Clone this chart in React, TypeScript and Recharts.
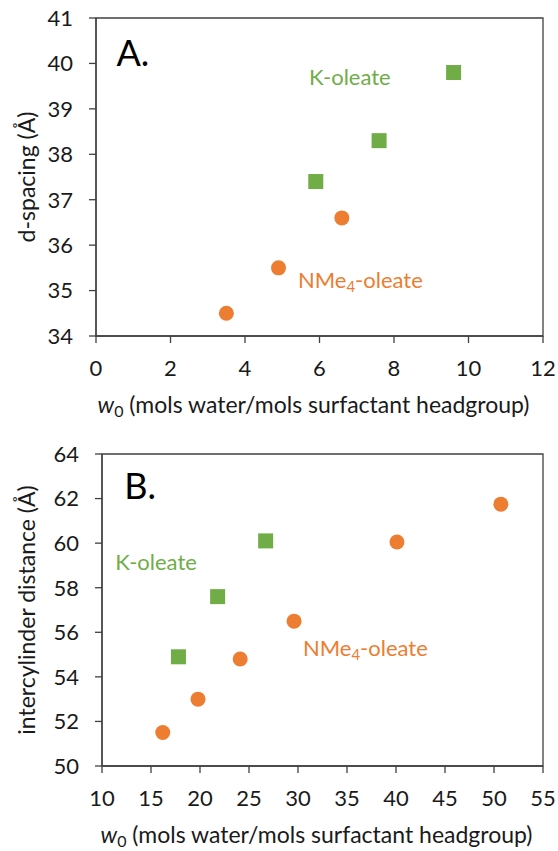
import React from "react";
import {
  ScatterChart,
  Scatter,
  XAxis,
  YAxis,
  ReferenceArea,
  ReferenceDot,
} from "recharts";

// Panel A: lamellar d-spacing vs w0
const kOleateW0A = [5.9, 7.6, 9.6];
const kOleateSpacingA = [37.4, 38.3, 39.8];
const nme4OleateW0A = [3.5, 4.9, 6.6];
const nme4OleateSpacingA = [34.5, 35.5, 36.6];
const xTicksA = [0, 2, 4, 6, 8, 10, 12];
const yTicksA = [34, 35, 36, 37, 38, 39, 40, 41];

// Panel B: intercylinder distance vs w0
const kOleateW0B = [17.8, 21.8, 26.7];
const kOleateDistB = [54.9, 57.6, 60.1];
const nme4OleateW0B = [16.2, 19.8, 24.1, 29.6, 40.1, 50.7];
const nme4OleateDistB = [51.5, 53.0, 54.8, 56.5, 60.05, 61.75];
const xTicksB = [10, 15, 20, 25, 30, 35, 40, 45, 50, 55];
const yTicksB = [50, 52, 54, 56, 58, 60, 62, 64];

const GREEN = "#70AD47";
const ORANGE = "#ED7D31";
const AXIS = "#404040";
const TEXT = "#1a1a1a";
const FONT = "Lato, 'Open Sans', sans-serif";

const zip = (xs: number[], ys: number[]) => xs.map((x, i) => ({ x, y: ys[i] }));

const Square = (props: any) => {
  const { cx, cy } = props;
  return <rect x={cx - 7.5} y={cy - 7.5} width={15} height={15} fill={GREEN} />;
};

const Dot = (props: any) => {
  const { cx, cy } = props;
  return <circle cx={cx} cy={cy} r={7.5} fill={ORANGE} />;
};

const tickStyle = { fontSize: 22, fill: TEXT, fontFamily: FONT };

const XTitle = (props: any) => {
  const { viewBox } = props;
  const cx = viewBox.x + viewBox.width / 2 - 6;
  const y = viewBox.y + 77;
  return (
    <text x={cx} y={y} textAnchor="middle" fontSize={23} fill={TEXT} fontFamily={FONT}>
      <tspan fontStyle="italic">w</tspan>
      <tspan fontSize={16} dy={4}>0</tspan>
      <tspan dy={-4}> (mols water/mols surfactant headgroup)</tspan>
    </text>
  );
};

const yTitle = (text: string) => (props: any) => {
  const { viewBox } = props;
  const cy = viewBox.y + viewBox.height / 2;
  const x = 26;
  return (
    <text
      x={x}
      y={cy}
      transform={`rotate(-90 ${x} ${cy})`}
      textAnchor="middle"
      dominantBaseline="central"
      fontSize={23}
      fill={TEXT}
      fontFamily={FONT}
    >
      {text}
    </text>
  );
};

const note = (text: string, color: string, size = 22) => (props: any) => (
  <text x={props.cx} y={props.cy} fontSize={size} fill={color} fontFamily={FONT}>
    {text}
  </text>
);

const nme4Note = (props: any) => (
  <text x={props.cx} y={props.cy} fontSize={22} fill={ORANGE} fontFamily={FONT}>
    <tspan>NMe</tspan>
    <tspan fontSize={15} dy={4}>4</tspan>
    <tspan dy={-4}>-oleate</tspan>
  </text>
);

const axisProps = {
  axisLine: { stroke: AXIS, strokeWidth: 1.3 },
  tickLine: { stroke: AXIS, strokeWidth: 1.3 },
  tickSize: 7,
  tick: tickStyle,
};

const PanelA = () => (
  <ScatterChart width={558} height={430} margin={{ top: 18, right: 15, bottom: 0, left: 0 }}>
    <ReferenceArea x1={0} x2={12} y1={34} y2={41} fill="none" stroke={AXIS} strokeWidth={1.3} />
    <XAxis
      type="number"
      dataKey="x"
      domain={[0, 12]}
      ticks={xTicksA}
      height={94}
      tickMargin={17}
      label={<XTitle />}
      {...axisProps}
    />
    <YAxis
      type="number"
      dataKey="y"
      domain={[34, 41]}
      ticks={yTicksA}
      width={96}
      tickMargin={16}
      label={{ content: yTitle("d-spacing (Å)") }}
      {...axisProps}
    />
    <Scatter data={zip(kOleateW0A, kOleateSpacingA)} shape={Square} isAnimationActive={false} />
    <Scatter data={zip(nme4OleateW0A, nme4OleateSpacingA)} shape={Dot} isAnimationActive={false} />
    <ReferenceDot x={0.55} y={39.95} shape={note("A.", "#000", 36)} />
    <ReferenceDot x={5.72} y={39.52} shape={note("K-oleate", GREEN)} />
    <ReferenceDot x={5.42} y={35.05} shape={nme4Note} />
  </ScatterChart>
);

const PanelB = () => (
  <ScatterChart width={558} height={421} margin={{ top: 24, right: 15, bottom: 0, left: 0 }}>
    <ReferenceArea x1={10} x2={55} y1={50} y2={64} fill="none" stroke={AXIS} strokeWidth={1.3} />
    <XAxis
      type="number"
      dataKey="x"
      domain={[10, 55]}
      ticks={xTicksB}
      height={85}
      tickMargin={17}
      label={<XTitle />}
      {...axisProps}
    />
    <YAxis
      type="number"
      dataKey="y"
      domain={[50, 64]}
      ticks={yTicksB}
      width={102}
      tickMargin={16}
      label={{ content: yTitle("intercylinder distance (Å)") }}
      {...axisProps}
    />
    <Scatter data={zip(kOleateW0B, kOleateDistB)} shape={Square} isAnimationActive={false} />
    <Scatter data={zip(nme4OleateW0B, nme4OleateDistB)} shape={Dot} isAnimationActive={false} />
    <ReferenceDot x={12.27} y={61.99} shape={note("B.", "#000", 36)} />
    <ReferenceDot x={11.35} y={58.81} shape={note("K-oleate", GREEN)} />
    <ReferenceDot x={30.5} y={54.92} shape={nme4Note} />
  </ScatterChart>
);

export default function App() {
  return (
    <div style={{ position: "absolute", left: 0, top: 0, width: 558, height: 851, background: "#fff" }}>
      <PanelA />
      <PanelB />
    </div>
  );
}
